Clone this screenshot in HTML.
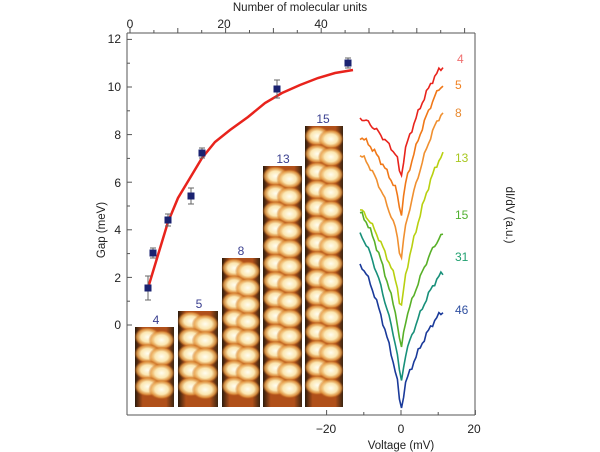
<!DOCTYPE html><html><head><style>
body{margin:0;background:#fff;}
svg{display:block;font-family:"Liberation Sans",sans-serif;}
</style></head><body>
<svg width="600" height="452" viewBox="0 0 600 452" xmlns="http://www.w3.org/2000/svg">
<defs>
<radialGradient id="blob"><stop offset="0" stop-color="#fffdf0"/><stop offset="0.5" stop-color="#fbe6b0"/><stop offset="0.8" stop-color="#e8a04a" stop-opacity="0.8"/><stop offset="1" stop-color="#c0601a" stop-opacity="0"/></radialGradient>
<linearGradient id="bg" x1="0" x2="1"><stop offset="0" stop-color="#2a1a0c"/><stop offset="0.2" stop-color="#b0501a"/><stop offset="0.8" stop-color="#b0501a"/><stop offset="1" stop-color="#3a2410"/></linearGradient>
</defs>
<g stroke="#555" stroke-width="1" fill="none">
<line x1="127" y1="33" x2="475" y2="33"/>
<line x1="127" y1="33" x2="127" y2="415"/>
<line x1="127" y1="415" x2="475" y2="415"/>
<line x1="475" y1="33" x2="475" y2="415"/>
</g>
<g stroke="#555" stroke-width="1" id="ticks"></g>
<g font-size="12" fill="#222">
<text x="300" y="11" text-anchor="middle" font-size="11.5">Number of molecular units</text>
<text x="130" y="28" text-anchor="middle">0</text>
<text x="224" y="28" text-anchor="middle">20</text>
<text x="321" y="28" text-anchor="middle">40</text>
<g text-anchor="end">
<text x="121" y="43">12</text><text x="121" y="91">10</text><text x="121" y="139">8</text>
<text x="121" y="187">6</text><text x="121" y="234">4</text><text x="121" y="282">2</text><text x="121" y="329">0</text>
</g>
<text x="326" y="433" text-anchor="middle">−20</text>
<text x="401" y="433" text-anchor="middle">0</text>
<text x="474" y="433" text-anchor="middle">20</text>
<text x="401" y="449" text-anchor="middle" font-size="11.5">Voltage (mV)</text>
<text transform="translate(105,230) rotate(-90)" text-anchor="middle" font-size="11.5">Gap (meV)</text>
<text transform="translate(506,215) rotate(90)" text-anchor="middle" font-size="11.5">dI/dV (a.u.)</text>
</g>
<g id="imgs"></g>
<g font-size="12" fill="#3a3f8f" text-anchor="middle">
<text x="156" y="324">4</text><text x="199" y="308">5</text><text x="241" y="255">8</text>
<text x="283" y="163">13</text><text x="323" y="123">15</text>
</g>
<path d="M148,288 L158,255 L168,222 L178,198 L190,178 L202,158 L215,142 L230,130 L248,117 L265,103 L282,93 L300,85 L318,78 L335,73 L353,70" stroke="#e8231c" stroke-width="2.5" fill="none"/>
<g id="pts"></g>
<g id="spec" fill="none" stroke-width="1.6"></g>
<g font-size="12">
<text x="457" y="63" fill="#f07070">4</text>
<text x="455" y="89" fill="#f08020">5</text>
<text x="455" y="117" fill="#e88a30">8</text>
<text x="455" y="162" fill="#a8c820">13</text>
<text x="455" y="219" fill="#50b030">15</text>
<text x="455" y="261" fill="#20a070">31</text>
<text x="455" y="314" fill="#3050a0">46</text>
</g>
</svg>
<script>
const NS="http://www.w3.org/2000/svg";
function el(t,a,p){const e=document.createElementNS(NS,t);for(const k in a)e.setAttribute(k,a[k]);document.getElementById(p).appendChild(e);return e;}
for(let v=0;v<=70;v+=5){const x=130+v*4.78;if(x>475)break;el('line',{x1:x,y1:33,x2:x,y2:v%10==0?28:30},'ticks');}
for(let v=0;v<=12;v+=1){const y=325-v*23.8;el('line',{x1:127,y1:y,x2:v%2==0?132:130,y2:y},'ticks');}
for(let v=-20;v<=20;v+=10){const x=401+v*3.72;el('line',{x1:x,y1:415,x2:x,y2:v%20==0?410:412},'ticks');}
[[148,288,12],[153,253,5],[168,220,6],[191,196,8],[202,153,5],[277,89,9],[348,63,5]].forEach(p=>{
el('line',{x1:p[0],y1:p[1]-p[2],x2:p[0],y2:p[1]+p[2],stroke:'#666','stroke-width':1},'pts');
el('line',{x1:p[0]-3,y1:p[1]-p[2],x2:p[0]+3,y2:p[1]-p[2],stroke:'#666'},'pts');
el('line',{x1:p[0]-3,y1:p[1]+p[2],x2:p[0]+3,y2:p[1]+p[2],stroke:'#666'},'pts');
el('rect',{x:p[0]-3.5,y:p[1]-3.5,width:7,height:7,fill:'#1a2270'},'pts');});
[[135,327,39,80],[178,311,40,96],[222,258,38,149],[263,166,39,241],[305,126,38,281]].forEach(r=>{
el('rect',{x:r[0],y:r[1],width:r[2],height:r[3],fill:'url(#bg)'},'imgs');
const n=Math.round(r[3]/19);
for(let i=0;i<n;i++){const cy=r[1]+10+i*(r[3]-14)/n;
el('ellipse',{cx:r[0]+r[2]*0.32,cy:cy,rx:r[2]*0.34,ry:10,fill:'url(#blob)'},'imgs');
el('ellipse',{cx:r[0]+r[2]*0.68,cy:cy+3,rx:r[2]*0.34,ry:10,fill:'url(#blob)'},'imgs');}
});
const S=[['#e8231c',118,177,67],['#f07818',137,215,85],['#f09030',155,260,113],['#b8d010',210,310,155],['#58b028',213,350,235],['#18907a',235,383,273],['#1a3a9a',265,410,312]];
S.forEach((s,k)=>{let d='';for(let i=0;i<=40;i++){const x=360+i*83/40;const t=(x-401);
let base=t<0? s[1]+(s[2]-s[1]-15)*Math.pow((t+41)/41,1.4) : s[3]+(s[2]-s[3]-15)*Math.pow(1-t/42,1.4);
const dip=15*Math.exp(-t*t/8);const nz=1.8*Math.sin(i*1.3+k)+1.2*Math.sin(i*3.1+k*2);
d+=(i?'L':'M')+x.toFixed(1)+','+(base+dip+nz).toFixed(1);}
el('path',{d:d,stroke:s[0]},'spec');});
</script>
</body></html>
